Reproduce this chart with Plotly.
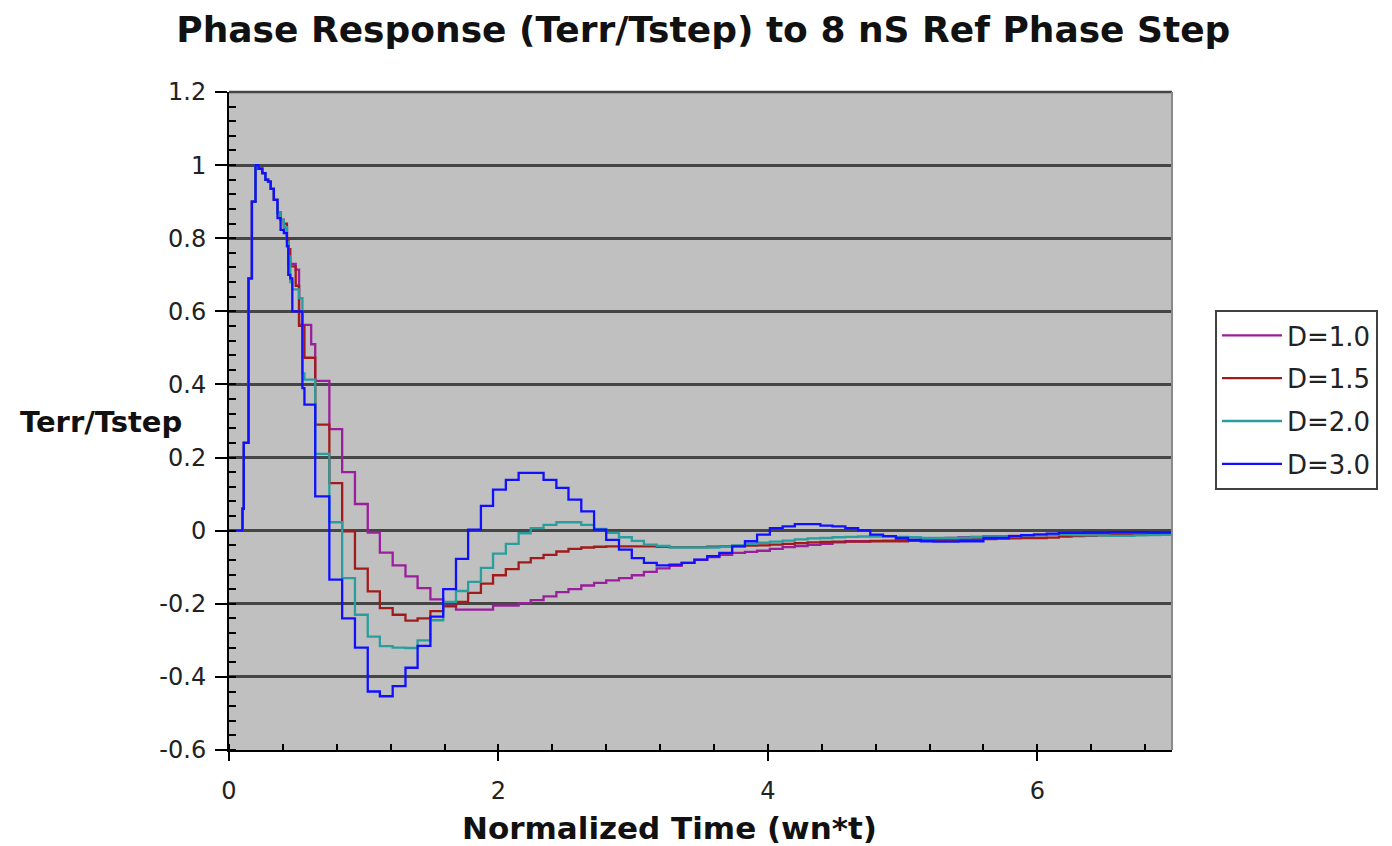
import plotly.graph_objects as go

# ---- data ----
time_early = [0, 0.1, 0.11, 0.145, 0.17, 0.197, 0.22, 0.247, 0.27, 0.29, 0.31, 0.333,
              0.36, 0.383, 0.407, 0.43, 0.44, 0.455, 0.47, 0.495, 0.52, 0.545, 0.56, 0.61]
time_late = [0.64, 0.745, 0.84, 0.935, 1.03, 1.12, 1.215, 1.31, 1.4, 1.495,
             1.59, 1.685, 1.775, 1.87, 1.96, 2.055, 2.15, 2.24, 2.335, 2.43,
             2.52, 2.615, 2.71, 2.8, 2.895, 2.99, 3.08, 3.175, 3.27, 3.36,
             3.455, 3.55, 3.64, 3.735, 3.83, 3.92, 4.015, 4.11, 4.2, 4.295,
             4.39, 4.48, 4.575, 4.67, 4.76, 4.855, 4.95, 5.04, 5.135, 5.23,
             5.32, 5.415, 5.51, 5.6, 5.695, 5.79, 5.88, 5.975, 6.07, 6.16,
             6.255, 6.35, 6.44, 6.535, 6.63, 6.72, 6.815, 6.91, 7.0]

d10_early = [0, 0.06, 0.24, 0.69, 0.90, 1.0, 0.99, 0.978, 0.96, 0.955, 0.935, 0.905,
             0.87, 0.85, 0.83, 0.80, 0.73, 0.73, 0.73, 0.714, 0.563, 0.563, 0.563, 0.51]
d10_late = [0.41, 0.278, 0.16, 0.073, -0.005, -0.06, -0.095, -0.125, -0.157, -0.188,
            -0.205, -0.216, -0.216, -0.216, -0.205, -0.205, -0.198, -0.19, -0.18, -0.168,
            -0.16, -0.15, -0.143, -0.136, -0.13, -0.122, -0.113, -0.103, -0.096, -0.088,
            -0.08, -0.072, -0.066, -0.061, -0.058, -0.055, -0.05, -0.045, -0.042, -0.039,
            -0.036, -0.032, -0.029, -0.029, -0.028, -0.027, -0.026, -0.025, -0.024, -0.022,
            -0.02, -0.018, -0.017, -0.016, -0.015, -0.014, -0.013, -0.012, -0.011, -0.01,
            -0.009, -0.008, -0.008, -0.007, -0.007, -0.006, -0.006, -0.005, -0.005]

d15_early = [0, 0.06, 0.24, 0.69, 0.90, 1.0, 0.99, 0.978, 0.96, 0.955, 0.935, 0.905,
             0.87, 0.85, 0.84, 0.80, 0.77, 0.723, 0.723, 0.67, 0.56, 0.56, 0.473, 0.473]
d15_late = [0.29, 0.13, -0.002, -0.104, -0.166, -0.212, -0.23, -0.246, -0.24, -0.22,
            -0.207, -0.195, -0.17, -0.145, -0.122, -0.105, -0.087, -0.075, -0.066, -0.057,
            -0.05, -0.046, -0.044, -0.043, -0.043, -0.043, -0.043, -0.044, -0.045, -0.045,
            -0.045, -0.044, -0.043, -0.042, -0.041, -0.04, -0.038, -0.036, -0.034, -0.032,
            -0.031, -0.03, -0.03, -0.03, -0.029, -0.029, -0.029, -0.028, -0.027, -0.026,
            -0.025, -0.024, -0.023, -0.023, -0.022, -0.021, -0.02, -0.02, -0.019, -0.016,
            -0.015, -0.014, -0.013, -0.012, -0.012, -0.011, -0.011, -0.01, -0.01]

d20_early = [0, 0.06, 0.24, 0.69, 0.90, 1.0, 0.99, 0.978, 0.96, 0.955, 0.935, 0.905,
             0.87, 0.85, 0.83, 0.79, 0.75, 0.68, 0.66, 0.66, 0.636, 0.43, 0.413, 0.413]
d20_late = [0.21, 0.023, -0.13, -0.23, -0.29, -0.316, -0.32, -0.321, -0.30, -0.245,
            -0.195, -0.165, -0.14, -0.102, -0.063, -0.036, -0.007, 0.007, 0.016, 0.023,
            0.023, 0.016, 0.005, -0.006, -0.018, -0.028, -0.038, -0.042, -0.046, -0.046,
            -0.046, -0.046, -0.044, -0.04, -0.036, -0.033, -0.03, -0.027, -0.024, -0.021,
            -0.02, -0.018, -0.017, -0.016, -0.016, -0.016, -0.017, -0.018, -0.02, -0.02,
            -0.02, -0.019, -0.018, -0.017, -0.016, -0.015, -0.013, -0.012, -0.011, -0.011,
            -0.012, -0.013, -0.013, -0.014, -0.014, -0.013, -0.012, -0.011, -0.01]

d30_early = [0, 0.06, 0.24, 0.69, 0.90, 1.0, 0.99, 0.978, 0.96, 0.955, 0.935, 0.905,
             0.855, 0.823, 0.814, 0.778, 0.70, 0.69, 0.60, 0.60, 0.60, 0.39, 0.345, 0.345]
d30_late = [0.094, -0.134, -0.24, -0.32, -0.44, -0.453, -0.425, -0.375, -0.315, -0.235,
            -0.16, -0.077, 0.003, 0.068, 0.112, 0.139, 0.158, 0.158, 0.139, 0.117,
            0.085, 0.053, 0.003, -0.025, -0.052, -0.075, -0.088, -0.095, -0.093, -0.088,
            -0.079, -0.07, -0.061, -0.043, -0.029, -0.011, 0.007, 0.012, 0.018, 0.018,
            0.014, 0.012, 0.007, 0.001, -0.011, -0.015, -0.02, -0.025, -0.029, -0.03,
            -0.03, -0.029, -0.029, -0.02, -0.02, -0.015, -0.012, -0.01, -0.008, -0.006,
            -0.006, -0.005, -0.005, -0.004, -0.004, -0.004, -0.005, -0.005, -0.006]

series_names = ["D=1.0", "D=1.5", "D=2.0", "D=3.0"]
series_values = [d10_early + d10_late, d15_early + d15_late,
                 d20_early + d20_late, d30_early + d30_late]
series_colors = ["#9a1f9a", "#a01c1c", "#2a9e9e", "#1010ff"]
time = time_early + time_late

y_ticks = [-0.6, -0.4, -0.2, 0, 0.2, 0.4, 0.6, 0.8, 1, 1.2]
y_ticklabels = ["-0.6", "-0.4", "-0.2", "0", "0.2", "0.4", "0.6", "0.8", "1", "1.2"]
x_ticks = [0, 2, 4, 6]

FONT = "DejaVu Sans"
W, H = 1384, 838   # page body adds an 8px offset

fig = go.Figure()
for name, vals, col in zip(series_names, series_values, series_colors):
    fig.add_trace(go.Scatter(
        x=time, y=vals, name=name, mode="lines", legendgroup=name,
        line=dict(color=col, width=2.3, shape="hv"),
    ))

fig.update_layout(
    width=W, height=H,
    margin=dict(l=221, r=W - 1164, t=84, b=H - 742),
    paper_bgcolor="white", plot_bgcolor="#c0c0c0",
    font=dict(family=FONT, color="#222222"),
    title=dict(text="<b>Phase Response (Terr/Tstep) to 8 nS Ref Phase Step</b>",
               font=dict(family=FONT, size=36, color="#111111"),
               x=0.503, xref="paper", xanchor="center",
               y=1 - 21 / H, yref="container", yanchor="middle"),
    showlegend=True,
    legend=dict(x=1.0456, xanchor="left", y=0.6687, yanchor="top",
                bgcolor="white", bordercolor="#404040", borderwidth=2,
                font=dict(family=FONT, size=26, color="#222222"),
                itemwidth=60,
                traceorder="grouped", tracegroupgap=6),
)

fig.update_xaxes(
    range=[0, 7], tickvals=x_ticks, showgrid=False, zeroline=False,
    showline=True, linecolor="black", linewidth=2,
    ticks="outside", ticklen=9, tickwidth=2, tickcolor="black",
    ticklabelstandoff=9, tickfont=dict(family=FONT, size=24, color="#222222"),
    minor=dict(ticks="inside", ticklen=6, tickwidth=1.5, tickcolor="black",
               dtick=0.4, tick0=0, showgrid=False),
)
fig.update_yaxes(
    range=[-0.6, 1.2], tickvals=y_ticks, ticktext=y_ticklabels,
    showgrid=True, gridcolor="#454545", gridwidth=2.5, zeroline=False,
    showline=True, linecolor="black", linewidth=2,
    ticks="outside", ticklen=12, tickwidth=2, tickcolor="black",
    ticklabelstandoff=4, tickfont=dict(family=FONT, size=24, color="#222222"),
    minor=dict(ticks="inside", ticklen=7, tickwidth=1.5, tickcolor="black",
               dtick=0.04, tick0=0, showgrid=False),
)

# plot frame (top grid edge and right border)
fig.add_shape(type="line", xref="paper", yref="paper", x0=0, x1=1, y0=1, y1=1,
              line=dict(color="#454545", width=2.5))
fig.add_shape(type="line", xref="paper", yref="paper", x0=1, x1=1, y0=0, y1=1,
              line=dict(color="#8a8a8a", width=2))

# axis titles
fig.add_annotation(text="<b>Terr/Tstep</b>", xref="paper", yref="paper",
                   x=(18 - 229) / 943, xanchor="left", y=0.4985, yanchor="middle",
                   showarrow=False, font=dict(family=FONT, size=29, color="#111111"))
fig.add_annotation(text="<b>Normalized Time (wn*t)</b>", xref="paper", yref="paper",
                   x=0.4666, xanchor="center", y=-0.1185, yanchor="middle",
                   showarrow=False, font=dict(family=FONT, size=31, color="#111111"))

fig.write_html("out.html")
